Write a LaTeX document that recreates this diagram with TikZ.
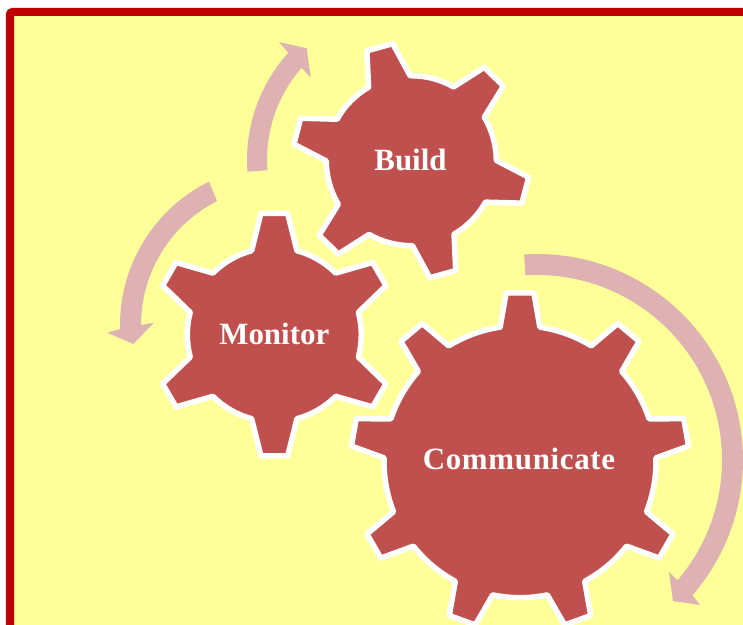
\documentclass[tikz,border=0pt]{standalone}
\usepackage{fontspec}
\setmainfont{Liberation Serif}
\usepackage{tikz}

\definecolor{paleyellow}{RGB}{255,255,153}
\definecolor{framered}{RGB}{192,0,0}
\definecolor{gearred}{RGB}{192,80,77}
\definecolor{bandpink}{RGB}{222,178,178}

% center, teeth, first tooth angle, root radius, tip radius, half base, half tip
\newcommand{\gearat}[7]{
  \draw[gearbody,shift={(#1)}] (#3+#6:#4)
  \foreach \k [evaluate=\k as \a using #3-(\k-1)*360/#2] in {1,...,#2} {
    -- (\a+#7:#5) -- (\a-#7:#5) -- (\a-#6:#4)
    arc[start angle=\a-#6,end angle=\a-360/#2+#6,radius=#4]
  } -- cycle;
}

\begin{document}
\begin{tikzpicture}[
      gearbody/.style={fill=gearred,draw=white,line width=.11cm,line join=round},
      band/.style={fill=bandpink},
      gearlabel/.style={anchor=base,text=white,font=\fontsize{17.6}{20}\selectfont\bfseries} ]
      \clip (0,0) rectangle (14.86,12.5);
      \draw[draw=framered,fill=paleyellow,line width=.16cm,rounded corners=.05cm] (.2,12.26) rectangle (16,-1);
      % arrows
      \fill[band,shift={(10.74,3.3)}] (93.6:4.12) arc[start angle=93.6,end angle=-41,radius=4.12]
        -- (3.26,-2.90) -- (2.72,-2.82) -- (2.64,-2.24) -- (-40.6:3.70)
        arc[start angle=-40.6,end angle=93.6,radius=3.70] -- cycle;
      \fill[band,shift={(5.6,6)}] (116.4:3.2) arc[start angle=116.4,end angle=181.5,radius=3.2]
        -- (-3.454,-.154) -- (-2.934,-.38) -- (-2.52,.046) -- (180:2.78)
        arc[start angle=180,end angle=116.9,radius=2.78] -- cycle;
      \fill[band,shift={(8.14,9.3)}] (184.2:3.2) arc[start angle=184.2,end angle=137.9,radius=3.2]
        -- (-2.56,2.36) -- (-2.006,2.234) -- (-1.926,1.646) -- (138.8:2.8)
        arc[start angle=138.8,end angle=184.2,radius=2.8] -- cycle;
      % gears
      \gearat{8.226,9.286}{6}{105.5}{1.7}{2.37}{14.7}{6.5}
      \gearat{5.486,5.806}{6}{90}{1.74}{2.44}{15.1}{6.3}
      \gearat{10.4,3.266}{9}{90}{2.72}{3.386}{8.4}{4.7}
      \node[gearlabel] (build) at (8.21,9.09) {Build};
      \node[gearlabel] (monitor) at (5.486,5.61) {Monitor};
      \node[gearlabel] (communicate) at (10.38,3.11) {\addfontfeature{LetterSpace=2.2}Communicate};
\end{tikzpicture}
\end{document}
